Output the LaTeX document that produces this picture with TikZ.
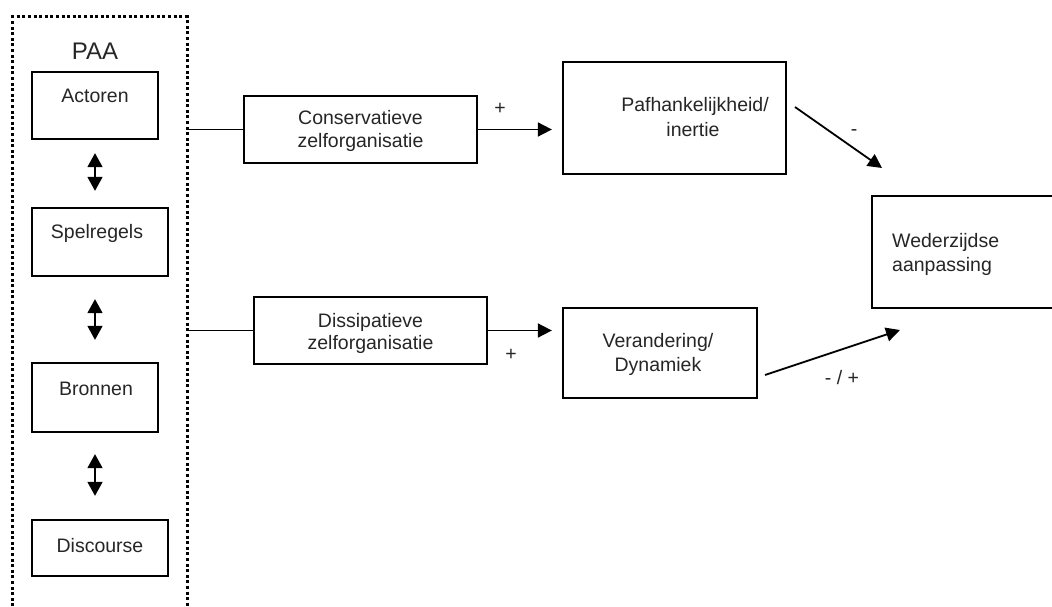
\documentclass[tikz,border=0pt]{standalone}
\usepackage{fontspec}
\setmainfont{Liberation Sans}
\usetikzlibrary{arrows.meta,calc}
\begin{document}
\begin{tikzpicture}[x=1pt,y=-1pt,
  box/.style={draw, line width=2.3pt, inner sep=0pt, fill=white},
  txt/.style={inner sep=0pt, anchor=base, text=black!85,
    font=\fontsize{19.5}{23}\selectfont},
  lbl/.style={inner sep=0pt, text=black!85, font=\fontsize{19.5}{23}\selectfont},
  conn/.style={line width=1.8pt},
  arr/.style={line width=1.8pt, -{Triangle[length=14pt,width=14pt]}},
  twoway/.style={line width=1.6pt, {Triangle[length=14pt,width=15pt]}-{Triangle[length=14pt,width=15pt]}},
  frame/.style={line width=3pt, dash pattern=on 3pt off 2.6pt}]
\useasboundingbox (0,0) rectangle (1052,607);
\clip (0,0) rectangle (1052,607);

% dotted PAA frame, open at the bottom
\coordinate (frBL) at (12.5,612);
\coordinate (frTL) at (12.5,17);
\coordinate (frTR) at (187,17);
\coordinate (frBR) at (187,612);
\draw[frame] (frBL) -- (frTL) -- (frTR) -- (frBR);
\node[lbl, anchor=base, font=\fontsize{24}{28}\selectfont] (paa) at (95,60) {PAA};

% PAA components
\node[box, minimum width=126pt, minimum height=67pt] (act) at (95,105.5) {};
\node[box, minimum width=136pt, minimum height=68pt] (spel) at (100,242) {};
\node[box, minimum width=126pt, minimum height=69pt] (bron) at (95,397.5) {};
\node[box, minimum width=136pt, minimum height=56pt] (disc) at (100,548) {};
\node[txt] (actT) at (95,103) {Actoren};
\node[txt] (spelT) at (97,238) {Spelregels};
\node[txt] (bronT) at (96,395) {Bronnen};
\node[txt] (discT) at (100,552) {Discourse};

\draw[twoway, shorten <=13pt, shorten >=16pt] (act.south) -- (act.south |- spel.north);
\draw[twoway, shorten <=22pt, shorten >=22pt] (act.south |- spel.south) -- (act.south |- bron.north);
\draw[twoway, shorten <=21pt, shorten >=23pt] (bron.south) -- (bron.south |- disc.north);

% self-organisation boxes
\node[box, minimum width=233pt, minimum height=67pt] (cons) at (360.5,129.5) {};
\node[txt] (consA) at (360.5,125) {Conservatieve};
\node[txt] (consB) at (360.5,148) {zelforganisatie};
\node[box, minimum width=233pt, minimum height=67pt] (diss) at (370.5,330.5) {};
\node[txt] (dissA) at (370.5,327) {Dissipatieve};
\node[txt] (dissB) at (370.5,349) {zelforganisatie};

\draw[conn] (cons.west -| frTR) -- (cons.west);
\draw[conn] (diss.west -| frTR) -- (diss.west);

% outcome boxes
\node[box, minimum width=223pt, minimum height=112pt] (paf) at (674.5,118) {};
\node[txt] (pafA) at (695,112) {Pafhankelijkheid/};
\node[txt] (pafB) at (693,137) {inertie};
\node[box, minimum width=194pt, minimum height=90pt] (ver) at (660,353) {};
\node[txt] (verA) at (658,347) {Verandering/};
\node[txt] (verB) at (658,371) {Dynamiek};
\node[box, minimum width=200pt, minimum height=112pt] (wed) at (972,252) {};
\node[txt, anchor=base west] (wedA) at (892,247) {Wederzijdse};
\node[txt, anchor=base west] (wedB) at (892,271) {aanpassing};

\draw[arr, shorten >=10pt] (cons.east) -- (cons.east -| paf.west);
\node[lbl] (plusA) at (500,109) {+};
\draw[arr, shorten >=10pt] (diss.east) -- (diss.east -| ver.west);
\node[lbl] (plusB) at (511,355) {+};

% influences on mutual adjustment
\coordinate (pafOut) at (795,107);
\coordinate (wedInA) at (882,168);
\coordinate (verOut) at (765,375);
\coordinate (wedInB) at (900,330);
\draw[arr] (pafOut) -- (wedInA);
\node[lbl] (minA) at (854,133) {-};
\draw[arr] (verOut) -- (wedInB);
\node[lbl] (minB) at (842,378) {- / +};
\end{tikzpicture}
\end{document}
